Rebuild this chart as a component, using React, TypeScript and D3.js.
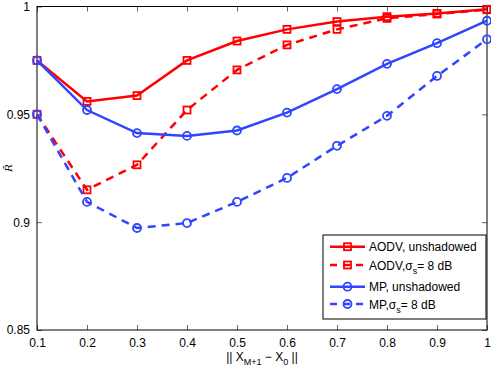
import * as d3 from "d3";
import React, { useRef, useEffect } from "react";

const distances = [0.1, 0.2, 0.3, 0.4, 0.5, 0.6, 0.7, 0.8, 0.9, 1.0];
const aodvUnshadowed = [0.975, 0.956, 0.9587, 0.975, 0.984, 0.9894, 0.993, 0.9953, 0.9968, 0.9987];
const aodvShadowed = [0.95, 0.915, 0.9266, 0.952, 0.9706, 0.9822, 0.9894, 0.9945, 0.9965, 0.9985];
const mpUnshadowed = [0.975, 0.952, 0.9413, 0.94, 0.9425, 0.9508, 0.9617, 0.9734, 0.983, 0.9934];
const mpShadowed = [0.95, 0.9094, 0.8973, 0.8996, 0.9094, 0.9205, 0.9354, 0.9493, 0.9678, 0.9848];
const xTicks = [0.1, 0.2, 0.3, 0.4, 0.5, 0.6, 0.7, 0.8, 0.9, 1];
const yTicks = [0.85, 0.9, 0.95, 1];

const RED = "#ff0000";
const BLUE = "#2f45ff";

const series = [
  { name: "AODV, unshadowed", values: aodvUnshadowed, color: RED, dashed: false, marker: "square" },
  { name: "AODV,", sigma: true, values: aodvShadowed, color: RED, dashed: true, marker: "square" },
  { name: "MP, unshadowed", values: mpUnshadowed, color: BLUE, dashed: false, marker: "circle" },
  { name: "MP,", sigma: true, values: mpShadowed, color: BLUE, dashed: true, marker: "circle" },
];

function Chart() {
  const ref = useRef<SVGSVGElement>(null);

  useEffect(() => {
    const svg = d3.select(ref.current);
    svg.selectAll("*").remove();

    const margin = { top: 6.5, right: 4, bottom: 38, left: 37 };
    const width = 491 - margin.left - margin.right,
      height = 368 - margin.top - margin.bottom;

    const x = d3.scaleLinear().domain([0.1, 1]).range([0, width]);
    const y = d3.scaleLinear().domain([0.85, 1]).range([height, 0]);

    const g = svg
      .append("g")
      .attr("transform", "translate(" + margin.left + "," + margin.top + ")");

    const font = "Liberation Sans, Arial, sans-serif";

    // axes, ticks pointing inward on all four sides
    const tk = 5;
    g.append("g")
      .attr("transform", "translate(0," + height + ")")
      .call(d3.axisBottom(x).tickValues(xTicks).tickSize(-tk).tickPadding(tk + 3).tickFormat(d3.format("")))
      .call((a) => a.select(".domain").remove());
    g.append("g")
      .call(d3.axisTop(x).tickValues(xTicks).tickSize(-tk).tickFormat(() => ""))
      .call((a) => a.select(".domain").remove());
    g.append("g")
      .call(d3.axisLeft(y).tickValues(yTicks).tickSize(-tk).tickPadding(tk + 2).tickFormat(d3.format("")))
      .call((a) => a.select(".domain").remove());
    g.append("g")
      .attr("transform", "translate(" + width + ",0)")
      .call(d3.axisRight(y).tickValues(yTicks).tickSize(-tk).tickFormat(() => ""))
      .call((a) => a.select(".domain").remove());

    g.selectAll(".tick text")
      .attr("font-family", font)
      .attr("font-size", 12)
      .attr("fill", "#000");
    g.selectAll(".tick line").attr("stroke", "#000").attr("stroke-width", 0.6);

    g.append("rect")
      .attr("width", width)
      .attr("height", height)
      .attr("fill", "none")
      .attr("stroke", "#000")
      .attr("stroke-width", 1);

    const line = d3
      .line<number>()
      .x((d, i) => x(distances[i]))
      .y((d) => y(d));

    const drawMarker = (sel: any, s: any, cx: number, cy: number) => {
      if (s.marker === "square") {
        sel
          .append("rect")
          .attr("x", cx - 3.5)
          .attr("y", cy - 3.5)
          .attr("width", 7)
          .attr("height", 7)
          .attr("fill", "none")
          .attr("stroke", s.color)
          .attr("stroke-width", 1.8);
      } else {
        sel
          .append("circle")
          .attr("cx", cx)
          .attr("cy", cy)
          .attr("r", 4)
          .attr("fill", "none")
          .attr("stroke", s.color)
          .attr("stroke-width", 1.8);
      }
    };

    series.forEach((s) => {
      g.append("path")
        .datum(s.values)
        .attr("d", line)
        .attr("fill", "none")
        .attr("stroke", s.color)
        .attr("stroke-width", 2.5)
        .attr("stroke-dasharray", s.dashed ? "8,6" : null);
      s.values.forEach((v, i) => drawMarker(g, s, x(distances[i]), y(v)));
    });

    // legend
    const lg = svg.append("g").attr("transform", "translate(323,235)");
    lg.append("rect")
      .attr("width", 163)
      .attr("height", 84)
      .attr("fill", "#fff")
      .attr("stroke", "#000")
      .attr("stroke-width", 1);
    const rows = [11.7, 30, 51.7, 69];
    series.forEach((s, i) => {
      const ry = rows[i];
      lg.append("line")
        .attr("x1", 7)
        .attr("x2", 42)
        .attr("y1", ry)
        .attr("y2", ry)
        .attr("stroke", s.color)
        .attr("stroke-width", 2.5)
        .attr("stroke-dasharray", s.dashed ? "7,6" : null);
      drawMarker(lg, s, 24.5, ry);
      const t = lg
        .append("text")
        .attr("x", 46)
        .attr("y", ry + 4.5)
        .attr("font-family", font)
        .attr("font-size", 12)
        .attr("fill", "#000")
        .text(s.name);
      if (s.sigma) {
        t.append("tspan").text("σ");
        t.append("tspan").attr("font-size", 9).attr("dy", 4).text("s");
        t.append("tspan").attr("dy", -4).text("= 8 dB");
      }
    });

    // x label
    const xl = svg
      .append("text")
      .attr("x", 262)
      .attr("y", 361)
      .attr("text-anchor", "middle")
      .attr("font-family", font)
      .attr("font-size", 12)
      .attr("fill", "#000");
    xl.append("tspan").text("|| X");
    xl.append("tspan").attr("font-size", 9).attr("dy", 4).text("M+1");
    xl.append("tspan").attr("dy", -4).text(" − X");
    xl.append("tspan").attr("font-size", 9).attr("dy", 4).text("0");
    xl.append("tspan").attr("dy", -4).text(" ||");

    // y label
    svg
      .append("text")
      .attr("transform", "translate(12,168) rotate(-90)")
      .attr("text-anchor", "middle")
      .attr("font-family", "DejaVu Serif, serif")
      .attr("font-style", "italic")
      .attr("font-size", 10)
      .attr("fill", "#000")
      .text("R\u0304");
  }, []);

  return <svg ref={ref} width={491} height={368} style={{ display: "block" }} />;
}

export default function App() {
  return (
    <div style={{ position: "fixed", left: 0, top: 0, background: "#fff" }}>
      <Chart />
    </div>
  );
}
